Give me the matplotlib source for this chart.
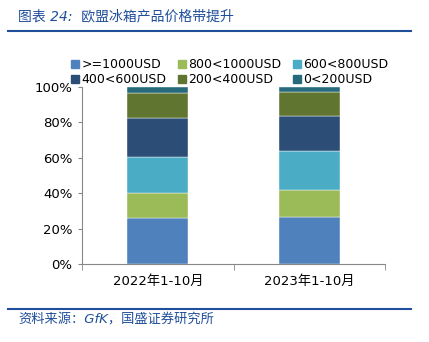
import numpy as np
import matplotlib.pyplot as plt
from matplotlib.lines import Line2D

plt.rcParams['font.family'] = ['DejaVu Sans', 'Noto Sans CJK SC']

# data (% share of each price band)
periods = ['2022年1-10月', '2023年1-10月']
bands = ['>=1000USD', '800<1000USD', '600<800USD', '400<600USD', '200<400USD', '0<200USD']
share_2022 = [25.8, 14.2, 20.6, 22.1, 14.1, 3.2]
share_2023 = [26.7, 15.1, 22.0, 20.0, 13.5, 2.7]
colors = ['#4F81BD', '#9BBB59', '#4BACC6', '#2C4D75', '#5F7530', '#276A7C']

data = np.array([share_2022, share_2023]).T

fig = plt.figure(figsize=(4.29, 3.42), dpi=100)
W, H = 429, 342
ax = fig.add_axes([82 / W, 1 - 264 / H, 303 / W, 177 / H])

x = np.arange(len(periods))
bottom = np.zeros(len(periods))
for vals, col, lab in zip(data, colors, bands):
    ax.bar(x, vals, 0.4, bottom=bottom, color=col, label=lab,
           edgecolor='white', linewidth=0.3)
    bottom += vals

ax.set_xlim(-0.5, 1.5)
ax.set_ylim(0, 100)
ax.set_yticks(np.arange(0, 101, 20))
ax.set_yticklabels([f'{v}%' for v in range(0, 101, 20)], fontsize=9.5)
ax.set_xticks(x)
ax.set_xticklabels(periods, fontsize=9.5)
ax.tick_params(axis='x', length=0, pad=8)
ax.set_xticks([-0.5, 0.5, 1.5], minor=True)
ax.tick_params(axis='x', which='minor', length=4, color='#888888', direction='out')
ax.tick_params(axis='y', length=3, color='#888888', pad=4)
for s in ['top', 'right']:
    ax.spines[s].set_visible(False)
for s in ['left', 'bottom']:
    ax.spines[s].set_color('#888888')
    ax.spines[s].set_linewidth(0.8)

# legend, 3 columns x 2 rows, filled row by row
leg_handles = [Line2D([], [], marker='s', linestyle='none', markersize=5.5,
                      markerfacecolor=c, markeredgecolor=c) for c in colors]
order = [0, 3, 1, 4, 2, 5]
ax.legend([leg_handles[i] for i in order], [bands[i] for i in order],
          ncol=3, loc='lower left',
          bbox_to_anchor=(67 / W, 1 - 91 / H), bbox_transform=fig.transFigure,
          frameon=False, fontsize=9, handlelength=0.5, handletextpad=0.25,
          columnspacing=1.0, labelspacing=0.15, borderaxespad=0)

# title and footer
blue = '#1F4E9A'
fig.text(18 / W, 1 - 16 / H, '图表 24:  欧盟冰箱产品价格带提升', fontsize=10,
         color=blue, va='center', ha='left', style='italic')
fig.add_artist(Line2D([8 / W, 411 / W], [1 - 31 / H, 1 - 31 / H],
                      color='#1F4E9A', linewidth=1.5))
fig.add_artist(Line2D([8 / W, 411 / W], [1 - 309 / H, 1 - 309 / H],
                      color='#1F4E9A', linewidth=1.5))
fig.text(18 / W, 1 - 320 / H, '资料来源：GfK，国盛证券研究所', fontsize=9.5,
         color=blue, va='center', ha='left', style='italic')

fig.savefig('out.png', dpi=100)
